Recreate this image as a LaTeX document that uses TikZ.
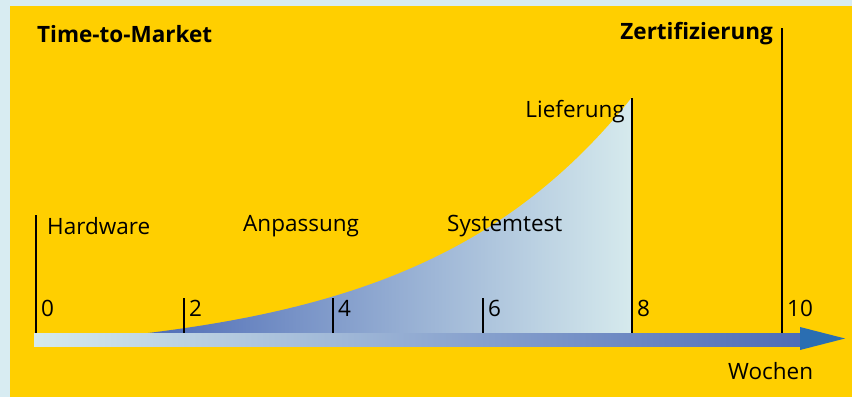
\documentclass[tikz,border=0pt]{standalone}
\usepackage{fontspec}
\setmainfont{Open Sans}
\usetikzlibrary{calc,positioning}
\definecolor{gelb}{RGB}{255,207,0}
\definecolor{rand}{RGB}{216,236,242}
\definecolor{dunkelblau}{RGB}{78,108,182}
\definecolor{hellblau}{RGB}{214,234,237}
\definecolor{pfeilblau}{RGB}{42,110,178}
\begin{document}
\begin{tikzpicture}[x=1pt,y=-1pt]
             \tikzstyle{label}=[inner sep=0pt,font=\fontsize{22.5}{26}\selectfont]
             \tikzstyle{titel}=[inner sep=0pt,font=\fontsize{22.5}{26}\selectfont\bfseries]
             \tikzstyle{marke}=[line width=1.8pt]
            \useasboundingbox (0,0) rectangle (852,397);
            \fill [rand] (0,0) rectangle (852,397);
            \fill [gelb] (10,6) rectangle (852,397);
            % Aufwand bis zur Lieferung
            \shade [left color=dunkelblau, right color=hellblau] plot [domain=148:632, samples=80] (\x,{333-25.5*(exp(0.0048*(\x-148))-1)}) -- (632,333) -- cycle;
            % Zeitachse
            \shade [left color=hellblau, right color=dunkelblau] (34,333) rectangle (802,346);
            \fill [pfeilblau] (800,327) -- (845,338.5) -- (800,350) -- cycle;
            \coordinate (achse) at (0,333);
            \foreach \w/\x/\top in {0/36/215, 2/184/298, 4/333/298, 6/483/298, 8/632/98, 10/782/28}
            {
              \coordinate (t\w) at (\x,\top);
              \draw [marke] (t\w) -- (t\w |- achse);
              \node (z\w) [label, anchor=west] at (\x+5,308) {\w};
            }
            \node (ttm) [titel, anchor=west] at (37,34) {Time-to-Market};
            \node (zert) [titel, anchor=east] at (773,34) {Zertifizierung};
            \node (liefer) [label, anchor=east] at (625,112) {Lieferung};
            \node (hw) [label, anchor=west] at (47,226) {Hardware};
            \node (anp) [label, anchor=west] at (243,226) {Anpassung};
            \node (sys) [label, anchor=west] at (447,226) {Systemtest};
            \node (wochen) [label, anchor=west] at (728,371) {Wochen};
\end{tikzpicture}
\end{document}
